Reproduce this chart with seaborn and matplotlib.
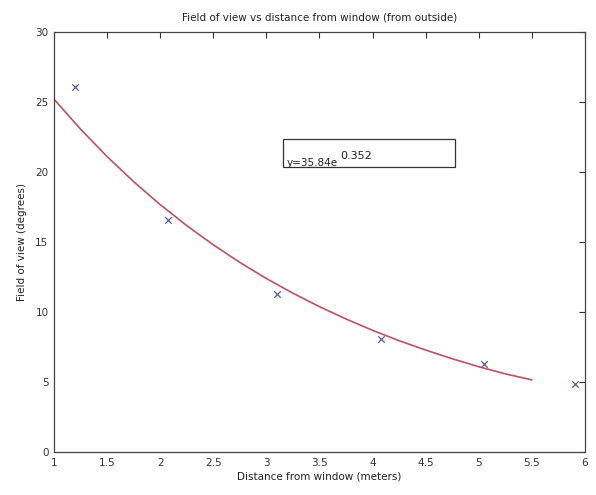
import matplotlib
matplotlib.use("Agg")
import matplotlib.pyplot as plt
import seaborn as sns
import pandas as pd

# Measured data
distance_m = [1.2, 2.07, 3.1, 4.08, 5.05, 5.91]
fov_deg = [26.1, 16.6, 11.3, 8.1, 6.3, 4.85]

# Fitted curve
fit_x = [1.0, 1.25, 1.5, 1.75, 2.0, 2.25, 2.5, 2.75, 3.0, 3.25, 3.5, 3.75,
         4.0, 4.25, 4.5, 4.75, 5.0, 5.25, 5.5]
fit_y = [25.20, 23.06, 21.10, 19.31, 17.67, 16.17, 14.80, 13.54, 12.39, 11.34,
         10.38, 9.50, 8.69, 7.95, 7.28, 6.66, 6.09, 5.58, 5.15]

x_ticks = [1, 1.5, 2, 2.5, 3, 3.5, 4, 4.5, 5, 5.5, 6]
y_ticks = [0, 5, 10, 15, 20, 25, 30]

title = "Field of view vs distance from window (from outside)"
xlabel = "Distance from window (meters)"
ylabel = "Field of view (degrees)"
eq_main = "y=35.84e"
eq_sup = "0.352"

sns.set_style("white")
plt.rcParams['font.family'] = ['DejaVu Sans']

pts = pd.DataFrame({"x": distance_m, "y": fov_deg})
fit = pd.DataFrame({"x": fit_x, "y": fit_y})

fig = plt.figure(figsize=(5.96, 4.95), dpi=100)
ax = fig.add_axes([0.0906, 0.0869, 0.8909, 0.8485])

sns.lineplot(data=fit, x="x", y="y", ax=ax, color="#c0505e", linewidth=1.2,
             sort=False)
sns.scatterplot(data=pts, x="x", y="y", ax=ax, marker="x", color="#55609a",
                s=22, linewidth=0.9)

ax.set_xlim(1, 6)
ax.set_ylim(0, 30)
ax.set_xticks(x_ticks)
ax.set_xticklabels([f"{t:g}" for t in x_ticks])
ax.set_yticks(y_ticks)
ax.tick_params(direction="in", top=True, right=True, length=4, width=0.8,
               labelsize=7.5, colors="#333333", pad=4)
for s in ax.spines.values():
    s.set_color("#444444")
    s.set_linewidth(0.9)

ax.set_title(title, fontsize=7.5, color="#222222", pad=8)
ax.set_xlabel(xlabel, fontsize=7.5, color="#222222", labelpad=3)
ax.set_ylabel(ylabel, fontsize=7.5, color="#222222", labelpad=6)

# Equation box
box = plt.Rectangle((3.157, 20.36), 1.62, 2.0, fill=False,
                    edgecolor="#333333", linewidth=0.9)
ax.add_patch(box)
ax.text(3.19, 20.25, eq_main, fontsize=7.5, color="#222222", va="bottom", ha="left")
ax.text(3.70, 20.75, eq_sup, fontsize=8, color="#222222", va="bottom", ha="left")

fig.savefig("out.png", dpi=100)
